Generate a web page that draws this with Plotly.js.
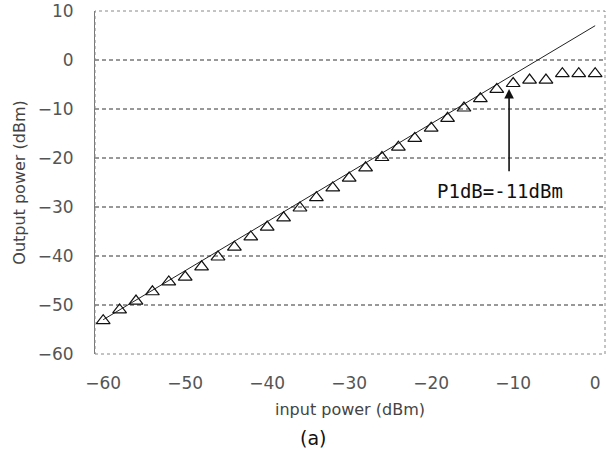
<!DOCTYPE html>
<html>
<head>
<meta charset="utf-8">
<script src="https://cdn.plot.ly/plotly-3.0.1.min.js"></script>
<style>body{margin:0;background:#fff}#chart{width:613px;height:457px}</style>
</head>
<body>
<div id="chart"></div>
<script>
// Measured data (triangles)
const inputPower = [-60,-58,-56,-54,-52,-50,-48,-46,-44,-42,-40,-38,-36,-34,-32,-30,-28,-26,-24,-22,-20,-18,-16,-14,-12,-10,-8,-6,-4,-2,0];
const outputPower = [-53.2,-51,-49.2,-47.3,-45.3,-44.3,-42.2,-40.2,-38.2,-36.1,-34.1,-32.2,-30.2,-28.1,-26.1,-24.1,-22,-19.9,-17.8,-16,-13.9,-11.9,-9.8,-7.9,-6,-4.8,-4.1,-4.1,-2.8,-2.8,-2.8];
// Linear reference line
const lineX = [-60, 0];
const lineY = [-53, 7];
// Axis ticks
const xTicks = [-60,-50,-40,-30,-20,-10,0];
const yTicks = [10,0,-10,-20,-30,-40,-50,-60];
const gridY = [0,-10,-20,-30,-40,-50];
// Annotation
const p1dbLabel = 'P1dB=-11dBm';
const arrowHead = {x: -10.5, y: -5.9};
const arrowTail = {x: -10.5, y: -23};
const labelPos = {x: -11.6, y: -26.8};

const shapes = gridY.map(v => ({
  type: 'line', xref: 'paper', x0: 0, x1: 1, yref: 'y', y0: v, y1: v,
  line: {color: '#333', width: 1, dash: '4px,3px'}, layer: 'below'
}));
shapes.push({type:'rect', xref:'paper', yref:'paper', x0:0, x1:1, y0:0, y1:1,
  line:{color:'#888', width:1, dash:'dot'}});

const data = [
  {x: lineX, y: lineY, mode: 'lines', line: {color: '#222', width: 1}, hoverinfo: 'skip', showlegend: false},
  {x: inputPower, y: outputPower, mode: 'markers',
   marker: {symbol: 'triangle-up-open', size: 12, color: '#111', line: {width: 1.2, color: '#111'}}, showlegend: false}
];

const tickFont = {family: 'DejaVu Sans, sans-serif', size: 17, color: '#555'};
const titleFont = {family: 'DejaVu Sans, sans-serif', size: 16, color: '#444'};
const layout = {
  width: 613, height: 457,
  margin: {l: 95, r: 8, t: 11, b: 103},
  paper_bgcolor: '#fff', plot_bgcolor: '#fff',
  xaxis: {range: [-61, 1.2], tickvals: xTicks, ticktext: xTicks.map(v => v < 0 ? '\u2212' + (-v) : String(v)),
    showgrid: false, zeroline: false, showline: false,
    ticks: 'outside', ticklen: 14, tickcolor: 'rgba(0,0,0,0)', tickfont: tickFont,
    title: {text: 'input power (dBm)', font: titleFont, standoff: 11}},
  yaxis: {range: [-60, 10], tickvals: yTicks, ticktext: yTicks.map(v => v < 0 ? '\u2212' + (-v) : String(v)),
    showgrid: false, zeroline: false, showline: true, linecolor: '#777', linewidth: 1,
    ticks: 'outside', ticklen: 17, tickcolor: 'rgba(0,0,0,0)', tickfont: tickFont,
    title: {text: 'Output power (dBm)', font: titleFont, standoff: 8}},
  shapes: shapes,
  annotations: [
    {x: arrowHead.x, y: arrowHead.y, ax: arrowTail.x, ay: arrowTail.y, axref: 'x', ayref: 'y', xref: 'x', yref: 'y',
     text: '', showarrow: true, arrowhead: 2, arrowsize: 1.2, arrowwidth: 1.6, arrowcolor: '#111'},
    {x: labelPos.x, y: labelPos.y, xref: 'x', yref: 'y', text: p1dbLabel, showarrow: false,
     font: {family: 'DejaVu Sans Mono, monospace', size: 19, color: '#111'}},
    {xref: 'paper', yref: 'paper', x: (313 - 95) / 510, y: -(438 - 354) / 343, xanchor: 'center', yanchor: 'middle',
     text: '(a)', showarrow: false, font: {family: 'DejaVu Sans, sans-serif', size: 19, color: '#111'}}
  ]
};

Plotly.newPlot('chart', data, layout, {displayModeBar: false, staticPlot: true});
</script>
</body>
</html>
